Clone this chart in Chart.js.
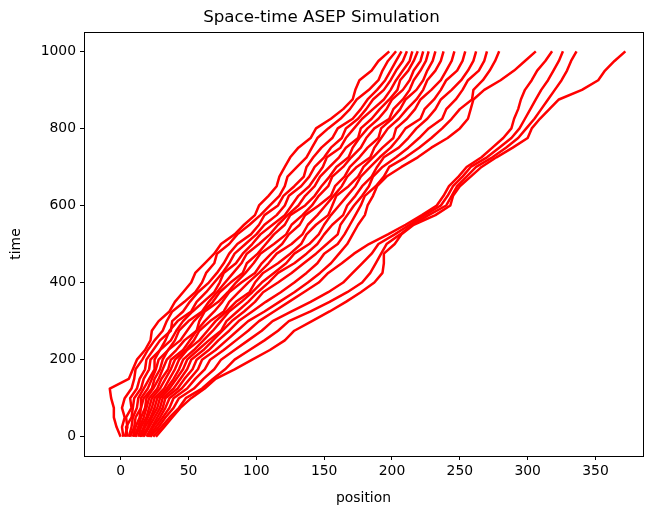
<!DOCTYPE html>
<html>
<head>
<meta charset="utf-8">
<script src="https://cdn.jsdelivr.net/npm/chart.js@4"></script>
<style>
  html, body { margin: 0; padding: 0; background: #fff; }
</style>
</head>
<body>
<canvas id="asep" width="653" height="507"></canvas>
<script>
// time grid shared by every particle (every 25 steps)
const times = [0, 25, 50, 75, 100, 125, 150, 175, 200, 225, 250, 275, 300, 325, 350, 375, 400,
               425, 450, 475, 500, 525, 550, 575, 600, 625, 650, 675, 700, 725, 750, 775, 800,
               825, 850, 875, 900, 925, 950, 975, 1000];

// particle positions, leftmost particle first
const p00 = [0, -3, -5, -5, -7, -8, 6, 9, 12, 18, 22, 23, 28, 36, 40, 46, 52, 55, 62, 69, 74, 84, 91, 99, 102, 109, 115, 117, 121, 125, 131, 140, 144, 155, 164, 171, 173, 176, 185, 190, 198];
const p01 = [2, 1, 3, 1, 3, 8, 10, 11, 16, 20, 25, 31, 34, 38, 47, 55, 60, 63, 69, 71, 80, 86, 95, 103, 110, 117, 121, 123, 130, 137, 141, 145, 153, 162, 169, 174, 183, 190, 193, 197, 203];
const p02 = [3, 5, 4, 8, 7, 12, 14, 18, 19, 24, 29, 37, 38, 46, 51, 57, 65, 71, 76, 80, 86, 96, 102, 106, 116, 120, 128, 135, 137, 142, 148, 156, 160, 171, 177, 182, 189, 195, 199, 203, 207];
const p03 = [5, 4, 8, 9, 10, 15, 17, 21, 22, 29, 33, 36, 42, 52, 56, 63, 69, 75, 80, 84, 92, 100, 106, 115, 121, 124, 133, 139, 143, 150, 155, 163, 166, 175, 181, 186, 194, 199, 203, 208, 211];
const p04 = [6, 8, 9, 12, 13, 17, 21, 25, 25, 29, 37, 41, 46, 53, 61, 69, 73, 76, 85, 90, 97, 103, 112, 121, 126, 131, 139, 144, 149, 152, 162, 166, 172, 178, 186, 194, 199, 203, 208, 213, 215];
const p05 = [7, 10, 11, 15, 15, 20, 23, 26, 28, 35, 40, 43, 50, 60, 65, 71, 77, 83, 89, 93, 102, 110, 116, 123, 131, 136, 143, 147, 154, 161, 166, 175, 177, 185, 191, 198, 204, 206, 212, 216, 219];
const p06 = [9, 11, 14, 15, 17, 23, 25, 29, 31, 35, 44, 49, 54, 61, 68, 73, 81, 90, 93, 101, 107, 113, 121, 125, 136, 143, 148, 154, 159, 168, 171, 176, 182, 190, 196, 200, 208, 213, 216, 221, 223];
const p07 = [10, 13, 15, 18, 19, 24, 28, 31, 34, 41, 47, 56, 58, 62, 72, 79, 85, 92, 98, 103, 113, 122, 126, 134, 141, 146, 153, 156, 164, 170, 177, 181, 187, 198, 201, 208, 213, 216, 221, 225, 227];
const p08 = [11, 14, 17, 19, 21, 27, 30, 35, 37, 46, 51, 56, 62, 69, 75, 80, 89, 99, 104, 111, 119, 124, 132, 136, 146, 155, 158, 165, 169, 176, 182, 190, 192, 200, 206, 210, 218, 223, 226, 230, 232];
const p09 = [13, 15, 19, 21, 23, 29, 33, 37, 40, 48, 54, 58, 66, 76, 80, 87, 94, 102, 109, 115, 126, 134, 138, 145, 151, 157, 163, 167, 174, 184, 187, 192, 197, 205, 211, 218, 223, 226, 232, 236, 238];
const p10 = [14, 17, 20, 23, 25, 32, 36, 40, 43, 49, 58, 64, 70, 78, 85, 95, 99, 105, 116, 125, 133, 137, 144, 153, 156, 159, 168, 175, 179, 186, 193, 201, 203, 211, 217, 221, 229, 236, 240, 244, 246];
const p11 = [15, 18, 22, 25, 27, 34, 39, 43, 46, 54, 61, 68, 74, 80, 89, 97, 104, 113, 122, 128, 139, 146, 150, 155, 161, 167, 173, 177, 184, 191, 199, 205, 210, 221, 224, 231, 236, 240, 248, 252, 254];
const p12 = [16, 20, 23, 27, 29, 36, 41, 46, 49, 57, 65, 74, 78, 86, 94, 101, 109, 116, 128, 137, 145, 150, 156, 164, 167, 173, 178, 185, 189, 194, 205, 212, 218, 226, 232, 236, 244, 251, 256, 260, 262];
const p13 = [17, 21, 25, 29, 31, 39, 44, 49, 52, 61, 68, 75, 82, 91, 99, 105, 116, 126, 135, 144, 152, 160, 162, 167, 172, 178, 183, 186, 193, 203, 212, 220, 227, 237, 240, 247, 252, 256, 264, 268, 270];
const p14 = [19, 23, 27, 31, 33, 42, 47, 53, 56, 65, 72, 80, 87, 97, 107, 118, 128, 137, 145, 150, 160, 165, 169, 173, 177, 180, 188, 194, 198, 210, 220, 229, 237, 244, 250, 259, 260, 267, 272, 276, 279];
const p15 = [20, 24, 29, 33, 36, 45, 51, 57, 60, 70, 78, 86, 94, 106, 117, 128, 138, 147, 155, 161, 167, 171, 175, 180, 182, 186, 189, 196, 207, 219, 229, 241, 250, 256, 258, 260, 268, 280, 290, 298, 306];
const p16 = [21, 26, 31, 36, 39, 49, 55, 62, 66, 76, 85, 94, 102, 113, 124, 135, 146, 153, 163, 172, 183, 197, 210, 222, 233, 238, 242, 249, 255, 266, 274, 282, 288, 290, 293, 295, 298, 303, 307, 313, 318];
const p17 = [22, 28, 33, 39, 43, 54, 61, 69, 74, 84, 94, 104, 112, 126, 140, 153, 164, 171, 178, 185, 190, 202, 213, 224, 236, 241, 245, 252, 258, 270, 279, 288, 294, 298, 302, 306, 310, 315, 319, 323, 326];
const p18 = [24, 30, 36, 43, 48, 60, 68, 77, 84, 95, 106, 116, 124, 140, 154, 167, 178, 184, 188, 192, 196, 206, 215, 227, 240, 244, 248, 255, 262, 274, 284, 293, 299, 305, 310, 315, 320, 325, 329, 332, 336];
const p19 = [26, 32, 38, 44, 52, 62, 70, 84, 97, 110, 121, 128, 141, 154, 166, 177, 187, 193, 194, 194, 202, 207, 216, 232, 243, 245, 250, 258, 266, 277, 289, 300, 303, 309, 316, 323, 340, 352, 357, 364, 372];

const particles = [p00, p01, p02, p03, p04, p05, p06, p07, p08, p09,
                   p10, p11, p12, p13, p14, p15, p16, p17, p18, p19];

const xTicks = [0, 50, 100, 150, 200, 250, 300, 350];
const yTicks = [0, 200, 400, 600, 800, 1000];

const font = 'DejaVu Sans';

// matplotlib style box around the axes
const frame = {
    id: 'frame',
    afterDraw(chart) {
        const a = chart.chartArea;
        const c = chart.ctx;
        c.save();
        c.strokeStyle = '#000';
        c.lineWidth = 1;
        c.strokeRect(Math.round(a.left) + 0.5, Math.round(a.top) + 0.5,
                     Math.round(a.right - a.left), Math.round(a.bottom - a.top));
        c.restore();
    }
};

const datasets = particles.map((pos, i) => ({
    label: 'particle ' + i,
    data: pos.map((x, k) => ({ x: x, y: times[k] })),
    showLine: true,
    borderColor: '#ff0000',
    borderWidth: 2.5,
    borderJoinStyle: 'round',
    pointRadius: 0,
    tension: 0
}));

new Chart(document.getElementById('asep'), {
    type: 'scatter',
    data: { datasets: datasets },
    options: {
        responsive: false,
        animation: false,
        devicePixelRatio: 1,
        layout: { padding: { left: 0, right: 10, top: 0, bottom: 0 } },
        plugins: {
            legend: { display: false },
            tooltip: { enabled: false },
            title: {
                display: true,
                text: 'Space-time ASEP Simulation',
                color: '#000',
                font: { family: font, size: 16.7, weight: 'normal' },
                padding: { top: 8, bottom: 4 }
            }
        },
        scales: {
            x: {
                type: 'linear',
                min: -27,
                max: 385,
                afterBuildTicks: s => { s.ticks = xTicks.map(v => ({ value: v })); },
                afterFit: s => { s.height = 51; },
                grid: { drawOnChartArea: false, drawTicks: true, tickLength: 4, tickColor: '#000' },
                border: { display: false },
                ticks: { color: '#000', font: { family: font, size: 13.9 }, padding: 3, maxRotation: 0,
                         callback: v => String(v) },
                title: { display: true, text: 'position', color: '#000', font: { family: font, size: 13.9 }, padding: 0 }
            },
            y: {
                type: 'linear',
                min: -50,
                max: 1050,
                afterBuildTicks: s => { s.ticks = yTicks.map(v => ({ value: v })); },
                afterFit: s => { s.width = 84; },
                grid: { drawOnChartArea: false, drawTicks: true, tickLength: 4, tickColor: '#000' },
                border: { display: false },
                ticks: { color: '#000', font: { family: font, size: 13.9 }, padding: 4,
                         callback: v => String(v) },
                title: { display: true, text: 'time', color: '#000', font: { family: font, size: 13.9 },
                         padding: { top: 8, bottom: 0 } }
            }
        }
    },
    plugins: [frame]
});
</script>
</body>
</html>
